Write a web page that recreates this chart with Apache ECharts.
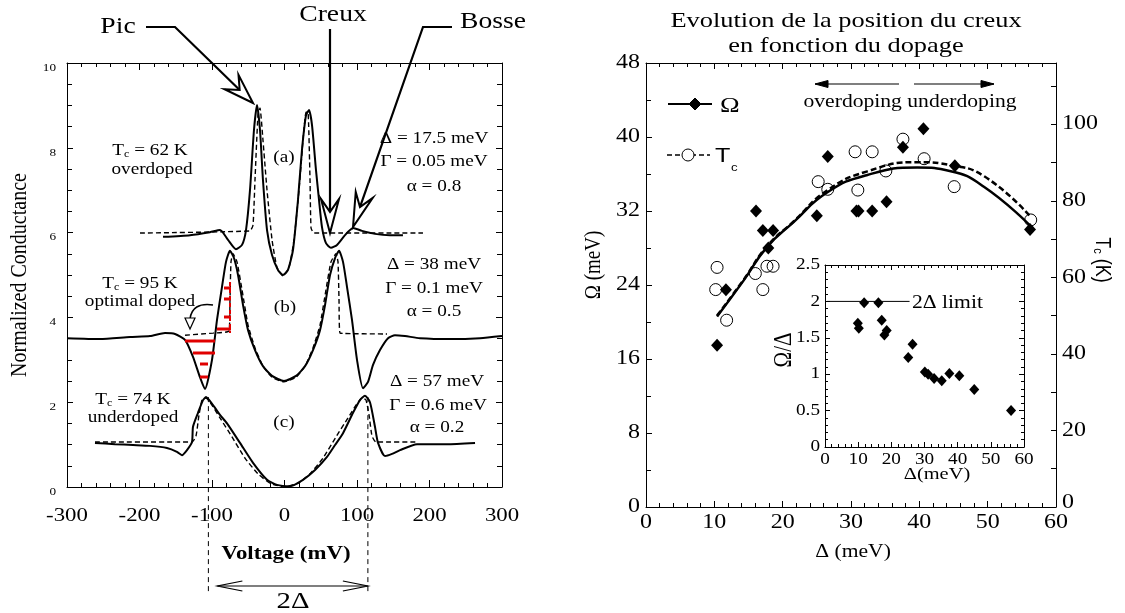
<!DOCTYPE html>
<html>
<head>
<meta charset="utf-8">
<script src="https://cdn.jsdelivr.net/npm/echarts@6/dist/echarts.min.js"></script>
<style>
  html, body { margin: 0; padding: 0; background: #fff; }
  #chart { width: 1125px; height: 613px; }
</style>
</head>
<body>
<div id="chart"></div>
<script>
// ---- Tunneling spectra: [voltage (mV), normalized conductance] ----
const specA_meas = [[-167.6,5.90],[-130.3,5.94],[-102.8,6.01],[-89.0,6.06],[-77.9,5.83],[-66.9,5.61],[-58.6,5.71],[-53.1,6.06],[-47.6,7.00],[-42.1,8.42],[-37.9,9.01],[-33.8,8.42],[-29.7,7.24],[-24.1,6.06],[-17.2,5.47],[-9.0,5.12],[-2.1,5.00],[4.8,5.12],[11.7,5.59],[18.6,6.77],[24.1,7.95],[29.7,8.77],[33.8,8.89],[37.9,8.54],[43.4,7.48],[47.6,6.77],[51.7,6.13],[57.2,5.75],[64.1,5.64],[72.4,5.71],[83.4,5.94],[94.5,6.11],[106.9,6.04],[124.8,5.97],[145.5,5.94],[163.4,5.94]];
const specA_fit = [[-199.3,5.99],[-47.6,6.04],[-43.4,6.18],[-40.7,7.24],[-36.6,8.77],[-33.8,8.94],[-29.7,8.18],[-24.1,7.00],[-17.2,5.83],[-10.3,5.17],[-2.1,4.98],[6.2,5.17],[13.1,5.83],[20.0,7.00],[25.5,8.18],[29.7,8.84],[32.4,8.84],[35.2,7.24],[36.6,6.11],[40.7,5.99],[191.0,5.99]];
const specB_meas = [[-300.0,3.51],[-254.5,3.49],[-213.1,3.54],[-185.5,3.56],[-164.8,3.63],[-151.0,3.61],[-137.2,3.47],[-126.2,3.07],[-116.6,2.59],[-109.7,2.31],[-100.0,3.00],[-93.1,3.94],[-86.2,4.72],[-80.7,5.31],[-75.2,5.57],[-69.7,5.40],[-64.1,5.00],[-57.2,4.29],[-50.3,3.70],[-40.7,3.23],[-29.7,2.85],[-17.2,2.62],[-0.7,2.50],[15.9,2.62],[28.3,2.85],[39.3,3.23],[49.0,3.70],[55.9,4.29],[62.8,5.00],[69.7,5.40],[75.2,5.57],[80.7,5.31],[86.2,4.72],[93.1,3.94],[100.0,3.00],[108.3,2.33],[115.2,2.48],[122.1,2.88],[131.7,3.23],[142.8,3.51],[152.4,3.58],[166.2,3.56],[186.9,3.51],[228.3,3.49],[269.7,3.51],[300.0,3.56]];
const specB_fit = [[-137.2,3.58],[-98.6,3.63],[-76.6,3.68],[-75.2,4.41],[-73.8,5.31],[-71.0,5.50],[-65.5,5.31],[-58.6,4.65],[-50.3,3.82],[-40.7,3.28],[-29.7,2.85],[-17.2,2.59],[-0.7,2.48],[15.9,2.59],[28.3,2.85],[39.3,3.28],[49.0,3.82],[57.2,4.65],[64.1,5.31],[71.0,5.50],[73.8,5.31],[75.2,4.41],[76.6,3.63],[141.4,3.61]];
const specC_meas = [[-261.4,1.04],[-233.8,1.01],[-209.0,0.99],[-185.5,0.97],[-162.1,0.92],[-148.3,0.83],[-141.4,0.75],[-134.5,0.87],[-127.6,1.06],[-126.2,1.42],[-119.3,1.75],[-112.4,2.05],[-108.3,2.12],[-98.6,1.93],[-89.0,1.70],[-79.3,1.50],[-61.4,1.04],[-43.4,0.57],[-24.1,0.17],[-10.3,0.05],[7.6,0.02],[25.5,0.17],[42.1,0.40],[58.6,0.71],[69.7,0.99],[80.7,1.27],[94.5,1.75],[104.1,2.05],[111.0,2.15],[117.9,2.00],[124.8,1.42],[129.0,1.04],[138.6,0.73],[148.3,0.78],[159.3,0.87],[182.8,1.01],[224.1,1.01],[262.8,1.04]];
const specC_fit = [[-261.4,1.06],[-127.6,1.06],[-122.1,1.20],[-117.9,1.70],[-113.8,2.05],[-108.3,2.10],[-100.0,1.93],[-89.0,1.63],[-72.4,1.18],[-54.5,0.68],[-36.6,0.31],[-20.0,0.09],[-0.7,0.00],[18.6,0.09],[35.2,0.31],[53.1,0.68],[71.0,1.18],[87.6,1.63],[98.6,1.93],[106.9,2.10],[112.4,2.05],[116.6,1.70],[120.7,1.20],[126.2,1.06],[182.8,1.06]];
// 2Δ markers under spectrum (c), mV, and the conductance where they start
const gapEdges = [-105, 115];
const gapMarkTop = 2.12;

// ---- Dip energy Ω and Tc versus gap Δ ----
const omegaDelta = [10.4, 11.7, 16.1, 17.1, 18.6, 17.9, 25.0, 26.6, 30.8, 31.1, 33.1, 35.2, 37.6, 40.6, 45.2, 56.2];
const omegaVals  = [17.5, 23.5, 32.0, 29.9, 29.9, 28.0, 31.5, 37.9, 32.0, 32.0, 32.0, 33.0, 38.9, 40.9, 36.9, 30.0];
const tcDelta = [10.4, 10.2, 11.8, 16.0, 17.1, 17.7, 18.6, 25.2, 26.6, 30.6, 33.1, 31.0, 35.1, 37.6, 40.7, 45.1, 56.3];
const tcVals  = [62.6, 56.8, 48.8, 61.0, 56.8, 62.9, 62.9, 85.0, 83.0, 92.8, 92.8, 82.8, 87.8, 96.1, 91.0, 83.7, 75.0];
const fitDelta = [10.4, 14.3, 17.7, 21.6, 26.5, 32.4, 39.7, 44.6, 49.5, 56.1];
const fitOmega = [20.6, 24.5, 28.1, 30.8, 34.0, 35.9, 36.7, 36.3, 34.6, 30.5];
const fitTc    = [50.0, 59.4, 68.1, 74.6, 82.7, 87.7, 90.1, 89.3, 86.4, 76.2];

// ---- Inset: Ω/Δ versus Δ ----
const ratioDelta = [9.9, 10.2, 11.8, 16.1, 17.1, 17.9, 18.6, 25.1, 26.4, 30.1, 31.1, 32.9, 35.2, 37.5, 40.5, 45.0, 56.1];
const ratioVals  = [1.70, 1.63, 1.98, 1.98, 1.74, 1.54, 1.60, 1.23, 1.41, 1.03, 1.00, 0.94, 0.91, 1.01, 0.98, 0.79, 0.50];
const limitLine = [[0.6, 2], [25.5, 2]];

// ---- tick labels ----
const voltTicks = [-300, -200, -100, 0, 100, 200, 300];
const condTicks = [0, 2, 4, 6, 8, 10];
const deltaTicks = [0, 10, 20, 30, 40, 50, 60];
const omegaTicks = [0, 8, 16, 24, 32, 40, 48];
const tcTicks = [0, 20, 40, 60, 80, 100];
const insetXTicks = [0, 10, 20, 30, 40, 50, 60];
const insetYTicks = [0, 0.5, 1, 1.5, 2, 2.5];

const SERIF = '"Liberation Serif", "DejaVu Serif", serif';
const SANS = '"Liberation Sans", "DejaVu Sans", sans-serif';
const SX = 1.2; // lettering is set slightly wide throughout

function pairs(xs, ys) { return xs.map((x, i) => [x, ys[i]]); }

function axis(o) {
  const a = {
    type: 'value',
    axisLine: { show: true, onZero: false, lineStyle: { color: '#000', width: 1 } },
    axisTick: { show: true, inside: true, length: 6, lineStyle: { color: '#000', width: 1 } },
    minorTick: { show: false, length: 3, lineStyle: { color: '#000', width: 1 } },
    splitLine: { show: false },
    minorSplitLine: { show: false },
    axisLabel: { show: false }
  };
  for (const k in o) {
    if (a[k] && typeof a[k] === 'object' && o[k] && typeof o[k] === 'object' && !Array.isArray(o[k])) {
      a[k] = Object.assign({}, a[k], o[k]);
    } else {
      a[k] = o[k];
    }
  }
  return a;
}

const chart = echarts.init(document.getElementById('chart'), null, { renderer: 'canvas' });

const solid = (w) => ({ color: '#000', width: w });
const dashed = (w, d) => ({ color: '#000', width: w, type: d });

chart.setOption({
  animation: false,
  backgroundColor: '#fff',
  grid: [
    { left: 67, top: 63, width: 435, height: 424, outerBoundsMode: 'none', containLabel: false },
    { left: 646, top: 63, width: 410, height: 444, outerBoundsMode: 'none', containLabel: false },
    { left: 825, top: 265, width: 199, height: 182, outerBoundsMode: 'none', containLabel: false,
      show: true, backgroundColor: '#fff', borderWidth: 0 }
  ],
  xAxis: [
    axis({ gridIndex: 0, position: 'bottom', min: -300, max: 300, interval: 100,
           axisTick: { length: 7 }, minorTick: { show: true, splitNumber: 5, length: 4 } }),
    axis({ gridIndex: 0, position: 'top', min: -300, max: 300, interval: 100,
           axisTick: { length: 7 }, minorTick: { show: true, splitNumber: 5, length: 4 } }),
    axis({ gridIndex: 1, position: 'bottom', min: 0, max: 60, interval: 10,
           minorTick: { show: true, splitNumber: 5, length: 4 } }),
    axis({ gridIndex: 1, position: 'top', min: 0, max: 60, interval: 10,
           minorTick: { show: true, splitNumber: 5, length: 4 } }),
    axis({ gridIndex: 2, position: 'bottom', min: 0, max: 60, interval: 10,
           axisTick: { length: 5 }, minorTick: { show: true, splitNumber: 5, length: 3 } }),
    axis({ gridIndex: 2, position: 'top', min: 0, max: 60, interval: 10,
           axisTick: { length: 5 }, minorTick: { show: true, splitNumber: 5, length: 3 } })
  ],
  yAxis: [
    axis({ gridIndex: 0, position: 'left', min: 0, max: 10, interval: 2,
           axisTick: { length: 6 }, minorTick: { show: true, splitNumber: 4, length: 5 } }),
    axis({ gridIndex: 0, position: 'right', min: 0, max: 10, interval: 2,
           axisTick: { length: 6 }, minorTick: { show: true, splitNumber: 4, length: 5 } }),
    axis({ gridIndex: 1, position: 'left', min: 0, max: 48, interval: 8,
           minorTick: { show: true, splitNumber: 2, length: 5 } }),
    axis({ gridIndex: 1, position: 'right', min: 0, max: 116, interval: 10,
           axisTick: { length: 5 } }),
    axis({ gridIndex: 2, position: 'left', min: 0, max: 2.5, interval: 0.5,
           axisTick: { length: 5 }, minorTick: { show: true, splitNumber: 5, length: 3 } }),
    axis({ gridIndex: 2, position: 'right', min: 0, max: 2.5, interval: 0.5,
           axisTick: { length: 5 }, minorTick: { show: true, splitNumber: 5, length: 3 } })
  ],
  series: [
    // spectra (solid = measured, dashed = fit)
    { type: 'line', xAxisIndex: 0, yAxisIndex: 0, data: specA_meas, symbol: 'none', smooth: 0.2, lineStyle: solid(2) },
    { type: 'line', xAxisIndex: 0, yAxisIndex: 0, data: specA_fit, symbol: 'none', smooth: 0.15, lineStyle: dashed(1.4, [5, 3]) },
    { type: 'line', xAxisIndex: 0, yAxisIndex: 0, data: specB_meas, symbol: 'none', smooth: 0.2, lineStyle: solid(2) },
    { type: 'line', xAxisIndex: 0, yAxisIndex: 0, data: specB_fit, symbol: 'none', smooth: 0.15, lineStyle: dashed(1.4, [5, 3]) },
    { type: 'line', xAxisIndex: 0, yAxisIndex: 0, data: specC_meas, symbol: 'none', smooth: 0.2, lineStyle: solid(2) },
    { type: 'line', xAxisIndex: 0, yAxisIndex: 0, data: specC_fit, symbol: 'none', smooth: 0.15, lineStyle: dashed(1.4, [5, 3]) },
    // Ω and Tc trends
    { type: 'line', xAxisIndex: 2, yAxisIndex: 2, data: pairs(fitDelta, fitOmega), symbol: 'none', smooth: true, lineStyle: solid(2.5) },
    { type: 'line', xAxisIndex: 2, yAxisIndex: 3, data: pairs(fitDelta, fitTc), symbol: 'none', smooth: true, lineStyle: dashed(2.5, [6, 3]) },
    { type: 'scatter', xAxisIndex: 2, yAxisIndex: 3, data: pairs(tcDelta, tcVals), symbol: 'circle', symbolSize: 12,
      itemStyle: { color: 'rgba(255,255,255,0)', borderColor: '#000', borderWidth: 1, opacity: 1 } },
    { type: 'scatter', xAxisIndex: 2, yAxisIndex: 2, data: pairs(omegaDelta, omegaVals), symbol: 'diamond', symbolSize: [12, 13],
      itemStyle: { color: '#000', opacity: 1 } },
    // inset
    { type: 'line', xAxisIndex: 4, yAxisIndex: 4, data: limitLine, symbol: 'none', lineStyle: solid(1) },
    { type: 'scatter', xAxisIndex: 4, yAxisIndex: 4, data: pairs(ratioDelta, ratioVals), symbol: 'diamond', symbolSize: [10, 11],
      itemStyle: { color: '#000', opacity: 1 } }
  ]
});

// ---------- annotations ----------
function txt(x, y, text, font, opts) {
  opts = opts || {};
  const rot = opts.rotation || 0;
  return {
    type: 'text', x: x, y: y, rotation: rot, z: 20, silent: true,
    scaleX: rot ? 1 : SX, scaleY: rot ? SX : 1,
    style: {
      text: text, font: font, fill: '#000',
      align: opts.align || 'center', verticalAlign: 'middle',
      textAlign: opts.align || 'center', textVerticalAlign: 'middle',
      rich: opts.rich
    }
  };
}
function line(x1, y1, x2, y2, w, dash, color) {
  return { type: 'line', z: 20, silent: true, shape: { x1, y1, x2, y2 },
           style: { stroke: color || '#000', lineWidth: w || 1, lineDash: dash || null } };
}
function poly(points, fill, stroke, w) {
  return { type: 'polygon', z: 21, silent: true, shape: { points },
           style: { fill: fill, stroke: stroke || '#000', lineWidth: w || 1 } };
}
// hollow arrow: shaft through the given points, outlined head at the last point
function hollowArrow(pts, len, half) {
  const n = pts.length;
  const [tx, ty] = pts[n - 1];
  const [px, py] = pts[n - 2];
  const d = Math.hypot(tx - px, ty - py);
  const ux = (tx - px) / d, uy = (ty - py) / d;
  const nx = -uy, ny = ux;
  const bx = tx - ux * len, by = ty - uy * len;
  const notch = [tx - ux * len * 0.62, ty - uy * len * 0.62];
  const shaft = pts.slice(0, n - 1).concat([notch]);
  return [
    { type: 'polyline', z: 20, silent: true, shape: { points: shaft }, style: { stroke: '#000', lineWidth: 2.2, fill: null } },
    poly([[tx, ty], [bx + nx * half, by + ny * half], notch, [bx - nx * half, by - ny * half]], '#fff', '#000', 2)
  ];
}

const F = (size, w) => (w || 'normal') + ' ' + size + 'px ' + SERIF;
const tcRich = {
  a: { fontSize: 16, fontFamily: SERIF, lineHeight: 20, verticalAlign: 'bottom' },
  b: { fontSize: 10, fontFamily: SERIF, lineHeight: 12, verticalAlign: 'bottom' }
};

const g = [];

// tick labels
const xPix = (i, v) => chart.convertToPixel({ xAxisIndex: i }, v);
const yPix = (i, v) => chart.convertToPixel({ yAxisIndex: i }, v);
voltTicks.forEach((v) => g.push(txt(xPix(0, v), 516, String(v), F(19))));
condTicks.forEach((v) => g.push(txt(56, yPix(0, v) + 5, String(v), F(11), { align: 'right' })));
deltaTicks.forEach((v) => g.push(txt(xPix(2, v), 523, String(v), F(20))));
omegaTicks.forEach((v) => g.push(txt(640, yPix(2, v), String(v), F(20), { align: 'right' })));
tcTicks.forEach((v) => g.push(txt(1062, yPix(3, v) - (v === 0 ? 4 : 0), String(v), F(20), { align: 'left' })));
insetXTicks.forEach((v) => g.push(txt(xPix(4, v), 460, String(v), F(16))));
insetYTicks.forEach((v) => g.push(txt(820, yPix(4, v), String(v), F(16), { align: 'right' })));

// left panel labels
g.push(txt(118, 27, 'Pic', F(23)));
g.push(txt(333, 15, 'Creux', F(23)));
g.push(txt(493, 22, 'Bosse', F(23)));
g.push(...hollowArrow([[146, 27], [175, 27], [253, 103]], 30, 10));
g.push(...hollowArrow([[330, 29], [330, 233]], 34, 9));
g.push(...hollowArrow([[452, 27], [423, 27], [353, 227]], 34, 9));

g.push(txt(150, 149, '{a|T}{b|c}{a| = 62 K}', F(16), { rich: tcRich }));
g.push(txt(152, 170, 'overdoped', F(16)));
g.push(txt(284, 158, '(a)', F(16)));
g.push(txt(434, 139, 'Δ = 17.5 meV', F(16)));
g.push(txt(434, 162, 'Γ = 0.05 meV', F(16)));
g.push(txt(434, 187, 'α = 0.8', F(16)));

g.push(txt(140, 282, '{a|T}{b|c}{a| = 95 K}', F(16), { rich: tcRich }));
g.push(txt(140, 302, 'optimal doped', F(16)));
g.push(txt(285, 308, '(b)', F(16)));
g.push(txt(434, 265, 'Δ = 38 meV', F(16)));
g.push(txt(434, 289, 'Γ = 0.1 meV', F(16)));
g.push(txt(434, 312, 'α = 0.5', F(16)));

g.push(txt(133, 398, '{a|T}{b|c}{a| = 74 K}', F(16), { rich: tcRich }));
g.push(txt(133, 418, 'underdoped', F(16)));
g.push(txt(284, 423, '(c)', F(16)));
g.push(txt(437, 382, 'Δ = 57 meV', F(16)));
g.push(txt(438, 406, 'Γ = 0.6 meV', F(16)));
g.push(txt(437, 428, 'α = 0.2', F(16)));

g.push(txt(20, 275, 'Normalized Conductance', F(20), { rotation: Math.PI / 2 }));
g.push(txt(286, 554, 'Voltage (mV)', F(19, 'bold')));

// curved pointer next to "optimal doped"
g.push({ type: 'bezierCurve', z: 20, silent: true,
         shape: { x1: 213, y1: 305, x2: 190, y2: 319, cpx1: 192, cpy1: 302 },
         style: { stroke: '#000', lineWidth: 1.5, fill: null } });
g.push(poly([[190, 329], [185, 318], [195, 318]], '#fff', '#000', 1.2));

// red markings across the dip and the peak flank of spectrum (b)
const red = '#e00000';
[[185, 215, 341], [193, 215, 353], [200, 208, 364], [200, 208, 377],
 [224, 231, 288], [224, 231, 299], [224, 231, 317], [217, 231, 329]].forEach(([a, b, y]) => {
  g.push(line(a, y, b, y, 3, null, red));
});
g.push(line(230, 282, 230, 333, 2, [4, 3], red));

// 2Δ markers below spectrum (c)
const px = gapEdges.map((v) => chart.convertToPixel({ xAxisIndex: 0, yAxisIndex: 0 }, [v, gapMarkTop]));
px.forEach((p) => g.push(line(p[0], p[1], p[0], 592, 1, [5, 4])));
const ax1 = px[0][0] + 9, ax2 = px[1][0];
g.push(line(ax1, 586, ax2, 586, 1.2));
g.push({ type: 'polyline', z: 20, silent: true, shape: { points: [[ax1 + 25, 581], [ax1, 586], [ax1 + 25, 591]] }, style: { stroke: '#000', lineWidth: 1.2, fill: null } });
g.push({ type: 'polyline', z: 20, silent: true, shape: { points: [[ax2 - 25, 581], [ax2, 586], [ax2 - 25, 591]] }, style: { stroke: '#000', lineWidth: 1.2, fill: null } });
g.push(txt(293, 602, '2Δ', F(24)));

// right panel labels
g.push(txt(846, 21, 'Evolution de la position du creux', F(22)));
g.push(txt(846, 46, 'en fonction du dopage', F(22)));
g.push(txt(910, 102, 'overdoping underdoping', F(18)));
g.push(line(899, 84, 815, 84, 1.2));
g.push(poly([[815, 84], [828, 80.5], [828, 87.5]], '#000', '#000', 1));
g.push(line(914, 84, 994, 84, 1.2));
g.push(poly([[994, 84], [981, 80.5], [981, 87.5]], '#000', '#000', 1));

g.push(txt(594, 265, 'Ω (meV)', F(19), { rotation: Math.PI / 2 }));
g.push(txt(853, 552, 'Δ (meV)', F(18)));
g.push(txt(1104, 260, '{a|T}{b|c}{a| (K)}', '18px ' + SANS, {
  rotation: -Math.PI / 2,
  rich: { a: { fontSize: 18, fontFamily: SANS, lineHeight: 22, verticalAlign: 'bottom' },
          b: { fontSize: 11, fontFamily: SANS, lineHeight: 12, verticalAlign: 'bottom' } }
}));

// legend
g.push(line(668, 104, 712, 104, 2));
g.push(poly([[695, 98], [701, 104], [695, 110], [689, 104]], '#000', '#000', 1));
g.push(txt(720, 106, 'Ω', F(22), { align: 'left' }));
g.push(line(667, 155, 710, 155, 1.5, [5, 3]));
g.push({ type: 'circle', z: 21, silent: true, shape: { cx: 688, cy: 155, r: 6 }, style: { fill: '#fff', stroke: '#000', lineWidth: 1 } });
g.push(txt(715, 156, 'T', '21px ' + SANS, { align: 'left' }));
g.push(txt(731, 168, 'c', '11px ' + SANS, { align: 'left' }));

// inset labels
g.push(txt(784, 350, 'Ω/Δ', F(21), { rotation: Math.PI / 2 }));
g.push(txt(937, 475, 'Δ(meV)', F(17)));
g.push(txt(912, 303, '2Δ limit', F(18), { align: 'left' }));

chart.setOption({ graphic: { elements: g } });
</script>
</body>
</html>
